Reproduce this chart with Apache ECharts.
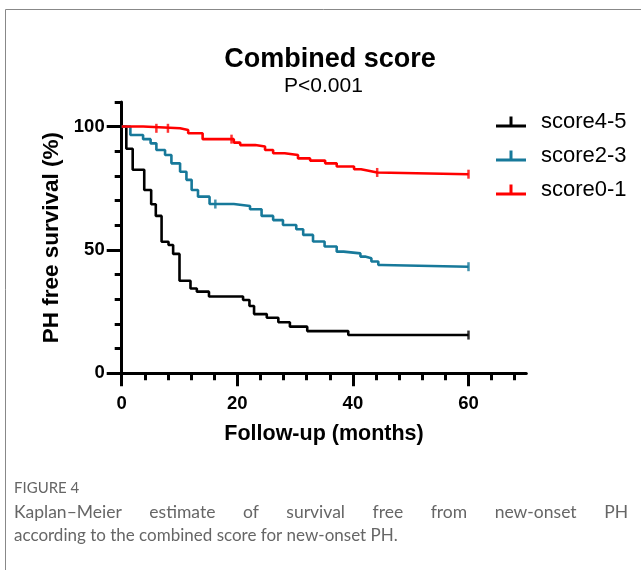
<!DOCTYPE html>
<html>
<head>
<meta charset="utf-8">
<script src="https://cdn.jsdelivr.net/npm/echarts@6/dist/echarts.min.js"></script>
<style>
html,body{margin:0;padding:0;background:#fff;}
#chart{width:641px;height:570px;}
</style>
</head>
<body>
<div id="chart"></div>
<script>
// ---- data ----
const seriesNames = ['score4-5', 'score2-3', 'score0-1'];
const seriesColors = ['#000000', '#17799a', '#ff0000'];

// Kaplan–Meier steps: [month, survival %]
const score45 = [[0,100],[0.8,91],[1.9,82.5],[3.9,74.3],[5.1,68.5],[5.9,63.8],[6.9,53.3],[8.1,52],[8.9,48.4],[10,37.5],[11.9,34.4],[13,33.1],[15.1,31.1],[21,29.7],[22.1,27.3],[22.9,24],[25.1,22.5],[27.1,20.7],[29.1,18.9],[32.1,17.1],[39.2,15.5],[60,15.5]];
const score23 = [[0,100],[1.5,96.6],[3.7,94.9],[5,93.2],[6,90.5],[7.5,88.5],[8.6,85.1],[10.1,81.7],[11.2,78.4],[12.1,74.3],[13.2,71.6],[15.2,68.6],[19.4,67.8],[22.2,66.5],[24.2,63.8],[26.2,62.1],[27.9,60.1],[30.2,58.4],[31.4,56.1],[33.1,53.4],[35.1,51.4],[37.2,49.3],[38.4,48.6],[41.3,47.3],[42.1,46.6],[43.2,45.3],[44.4,43.9],[45,43.2],[60,43.2]];
const score01 = [[0,100],[3.7,99.3],[10.1,98.6],[11.5,97.3],[14,94.9],[19.4,93.5],[20.5,92.5],[23.1,91.9],[24.8,90.5],[26.2,89.2],[28.2,88.5],[30.5,87.1],[32.6,86.2],[35.2,85.1],[37.2,83.8],[40.2,82.7],[41.4,82.2],[42.5,81.4],[44.2,80.7],[60,80.7]];

// censoring marks
const cens45 = [[60,15.5]];
const cens23 = [[16.2,68.6],[60,43.2]];
const cens01 = [[6,99.3],[8,99.3],[19,94.9],[44.2,81.4],[60,80.7]];

// axes
const xTickValues = [0,4,8,12,16,20,24,28,32,36,40,44,48,52,56,60,64,68];
const xLabelValues = [0,20,40,60];
const yTickValues = [0,10,20,30,40,50,60,70,80,90,100,110];
const yLabelValues = [0,50,100];

const titleText = 'Combined score';
const pText = 'P<0.001';
const xName = 'Follow-up (months)';
const yName = 'PH free survival (%)';
const figLabel = 'FIGURE 4';
const captionLine1 = 'Kaplan\u2013Meier estimate of survival free from new-onset PH';
const captionLine2 = 'according to the combined score for new-onset PH.';

// ---- chart ----
const chart = echarts.init(document.getElementById('chart'), null, {renderer: 'canvas'});
const FONT = '"Liberation Sans", Arial, sans-serif';
const CAPFONT = 'Lato, "Open Sans", sans-serif';

function justifyWords(text, x0, x1, y, size, color) {
  const c = document.createElement('canvas').getContext('2d');
  c.font = size + 'px ' + CAPFONT;
  const words = text.split(' ');
  const widths = words.map(w => c.measureText(w).width);
  const total = widths.reduce((a, b) => a + b, 0);
  const gap = (x1 - x0 - total) / (words.length - 1);
  const els = [];
  let x = x0;
  words.forEach((w, i) => {
    els.push({type: 'text', x: x, y: y, style: {text: w, font: size + 'px ' + CAPFONT, fill: color, verticalAlign: 'middle'}});
    x += widths[i] + gap;
  });
  return els;
}

const lineDefs = [score45, score23, score01];
const censDefs = [cens45, cens23, cens01];
const series = [];
lineDefs.forEach((d, i) => {
  series.push({
    name: seriesNames[i], type: 'line', step: 'end', data: d,
    showSymbol: false, symbol: 'none',
    lineStyle: {color: seriesColors[i], width: 2.6},
    itemStyle: {color: seriesColors[i]},
    z: 3 + i, animation: false
  });
});
censDefs.forEach((d, i) => {
  series.push({
    name: seriesNames[i] + ' censored', type: 'scatter', data: d,
    symbol: 'rect', symbolSize: [2.5, 9],
    itemStyle: {color: seriesColors[i]},
    z: 3 + i, animation: false
  });
});

const legendIcon = 'path://M0,8h30v3H0z M13.5,0h3v8h-3z';

const option = {
  backgroundColor: '#fff',
  animation: false,
  title: {
    text: titleText, left: 325, textAlign: 'center', top: 41,
    textStyle: {fontFamily: FONT, fontSize: 27, fontWeight: 'bold', color: '#000'}
  },
  legend: {
    orient: 'vertical', left: 491, top: 106,
    itemWidth: 30, itemHeight: 11, itemGap: 12,
    data: seriesNames.map(n => ({name: n, icon: legendIcon})),
    textStyle: {fontFamily: FONT, fontSize: 22, color: '#000', lineHeight: 22, padding: [0,0,0,10]},
    selectedMode: false
  },
  grid: {left: 121.7, right: 114.7, top: 101.9, bottom: 196.7, containLabel: false},
  xAxis: [
    {
      type: 'value', min: 0, max: 70, position: 'bottom',
      name: xName, nameLocation: 'middle', nameGap: 50,
      nameTextStyle: {fontFamily: FONT, fontSize: 21.5, fontWeight: 'bold', color: '#000'},
      axisLine: {show: true, lineStyle: {color: '#000', width: 3}},
      axisTick: {show: true, customValues: xTickValues, length: 7, lineStyle: {color: '#000', width: 3}},
      axisLabel: {show: true, customValues: xLabelValues, margin: 21, fontFamily: FONT, fontSize: 18.5, fontWeight: 'bold', color: '#000'},
      splitLine: {show: false}
    },
    {
      type: 'value', min: 0, max: 70, position: 'bottom', offset: 0,
      axisLine: {show: false},
      axisTick: {show: true, customValues: xLabelValues, length: 13, lineStyle: {color: '#000', width: 3}},
      axisLabel: {show: false},
      splitLine: {show: false}
    }
  ],
  yAxis: [
    {
      type: 'value', min: 0, max: 110, position: 'left',
      name: yName, nameLocation: 'middle', nameGap: 54, nameRotate: 90,
      nameTextStyle: {fontFamily: FONT, fontSize: 22.5, fontWeight: 'bold', color: '#000'},
      axisLine: {show: true, lineStyle: {color: '#000', width: 3}},
      axisTick: {show: true, customValues: yTickValues, length: 7, lineStyle: {color: '#000', width: 3}},
      axisLabel: {show: true, customValues: yLabelValues, margin: 17, fontFamily: FONT, fontSize: 18.5, fontWeight: 'bold', color: '#000'},
      splitLine: {show: false}
    },
    {
      type: 'value', min: 0, max: 110, position: 'left', offset: 0,
      axisLine: {show: false},
      axisTick: {show: true, customValues: yLabelValues, length: 15, lineStyle: {color: '#000', width: 3}},
      axisLabel: {show: false},
      splitLine: {show: false}
    }
  ],
  graphic: [
    {type: 'line', shape: {x1: 5.5, y1: 9.5, x2: 641, y2: 9.5}, style: {stroke: '#888', lineWidth: 1}},
    {type: 'line', shape: {x1: 5.5, y1: 9.5, x2: 5.5, y2: 570}, style: {stroke: '#888', lineWidth: 1}},
    {type: 'text', left: 284, top: 76, style: {text: pText, font: '21px ' + FONT, fill: '#000'}},
    {type: 'text', x: 14, y: 488, style: {text: figLabel, font: '15px ' + CAPFONT, fill: '#666', verticalAlign: 'middle'}},
    ...justifyWords(captionLine1, 14, 628, 512, 17.5, '#666'),
    {type: 'text', x: 14, y: 536, style: {text: captionLine2, font: '17px ' + CAPFONT, fill: '#666', verticalAlign: 'middle'}}
  ],
  series: series
};
chart.setOption(option);
</script>
</body>
</html>
